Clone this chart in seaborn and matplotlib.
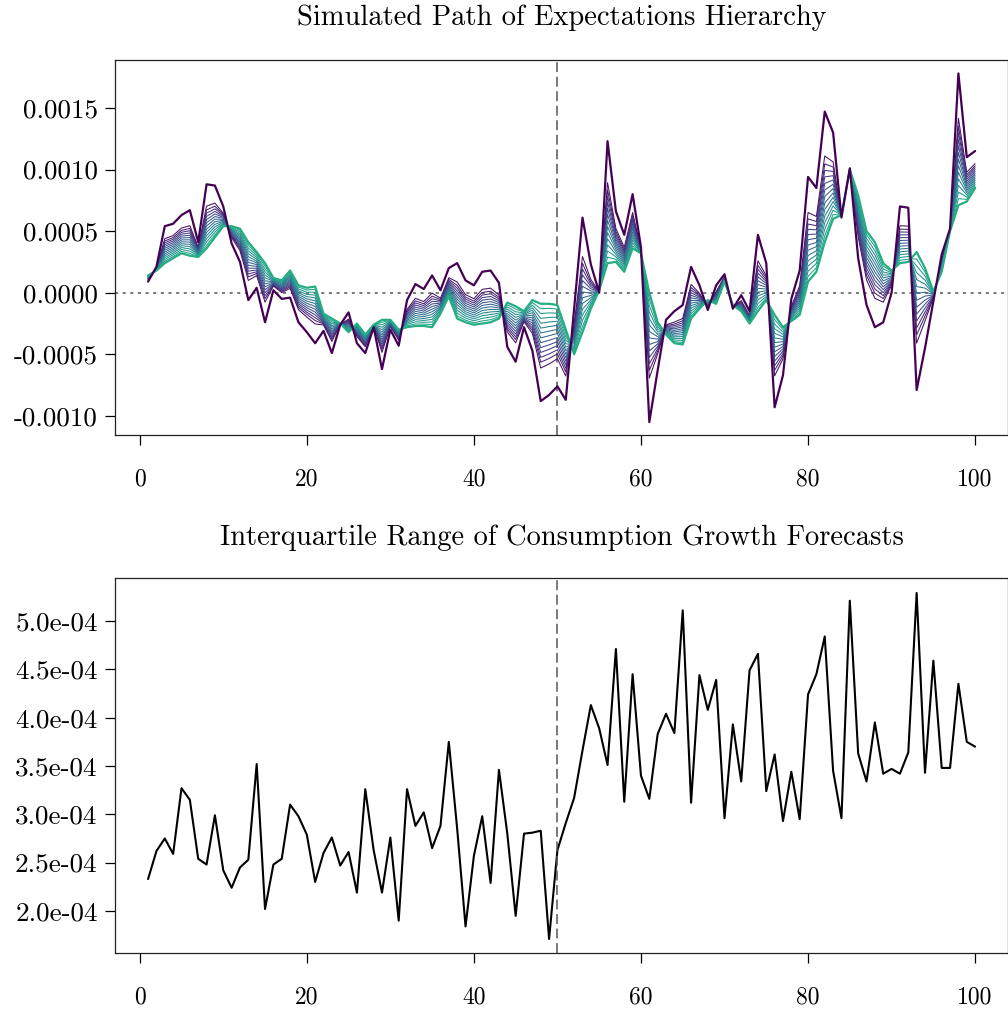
import numpy as np
import pandas as pd
import matplotlib
matplotlib.use("Agg")
import matplotlib.pyplot as plt
import seaborn as sns

# ---------------- data ----------------
periods = list(range(1, 101))

# first-order (most volatile) path -- thick dark purple line
first_order = [
    0.00009, 0.00021, 0.00054, 0.00056, 0.00063, 0.00067, 0.00041, 0.00088, 0.00087, 0.00070,
    0.00040, 0.00025, -0.00006, 0.00004, -0.00024, 0.00002, -0.00005, -0.00004, -0.00024, -0.00032,
    -0.00041, -0.00031, -0.00049, -0.00026, -0.00016, -0.00041, -0.00049, -0.00028, -0.00062, -0.00030,
    -0.00043, -0.00006, 0.00007, 0.00003, 0.00014, 0.00002, 0.00020, 0.00024, 0.00010, 0.00006,
    0.00017, 0.00018, 0.00008, -0.00044, -0.00056, -0.00028, -0.00047, -0.00088, -0.00083, -0.00076,
    -0.00087, -0.00013, 0.00061, 0.00023, 0.00000, 0.00123, 0.00066, 0.00047, 0.00080, 0.00037,
    -0.00105, -0.00063, -0.00022, -0.00015, -0.00010, 0.00021, 0.00006, -0.00014, 0.00006, 0.00015,
    -0.00013, -0.00002, -0.00015, 0.00047, 0.00024, -0.00093, -0.00067, -0.00005, 0.00018, 0.00094,
    0.00085, 0.00147, 0.00130, 0.00061, 0.00101, 0.00028, -0.00010, -0.00028, -0.00024, 0.00000,
    0.00070, 0.00069, -0.00079, -0.00045, -0.00007, 0.00031, 0.00052, 0.00178, 0.00110, 0.00115,
]

# highest-order (smoothest) path -- thick teal line
highest_order = [
    0.00014, 0.00018, 0.00024, 0.00028, 0.00032, 0.00030, 0.00029, 0.00036, 0.00045, 0.00054,
    0.00054, 0.00052, 0.00041, 0.00033, 0.00024, 0.00012, 0.00010, 0.00018, 0.00006, 0.00004,
    0.00005, -0.00017, -0.00021, -0.00025, -0.00032, -0.00025, -0.00034, -0.00026, -0.00022, -0.00022,
    -0.00030, -0.00028, -0.00027, -0.00027, -0.00028, -0.00017, -0.00003, -0.00021, -0.00024, -0.00026,
    -0.00025, -0.00024, -0.00021, -0.00008, -0.00011, -0.00015, -0.00006, -0.00009, -0.00009, -0.00010,
    -0.00030, -0.00050, -0.00032, -0.00013, 0.00002, 0.00024, 0.00025, 0.00017, 0.00036, 0.00032,
    0.00000, -0.00024, -0.00034, -0.00041, -0.00042, -0.00021, -0.00013, -0.00006, -0.00009, 0.00009,
    -0.00010, -0.00015, -0.00025, -0.00015, -0.00006, -0.00018, -0.00028, -0.00023, -0.00018, 0.00009,
    0.00017, 0.00041, 0.00060, 0.00063, 0.00100, 0.00079, 0.00050, 0.00041, 0.00024, 0.00018,
    0.00024, 0.00025, 0.00033, 0.00020, 0.00001, 0.00017, 0.00050, 0.00071, 0.00074, 0.00085,
]

# relative position of each order inside the fan (1 = first order, 0 = highest order)
order_weights = [1.0, 0.66, 0.60, 0.55, 0.50, 0.45, 0.40, 0.35, 0.30, 0.25, 0.20, 0.15, 0.10, 0.05, 0.0]

# interquartile range of consumption growth forecasts
iqr_values = [
    2.33e-4, 2.62e-4, 2.75e-4, 2.59e-4, 3.27e-4, 3.15e-4, 2.54e-4, 2.48e-4, 2.99e-4, 2.42e-4,
    2.24e-4, 2.45e-4, 2.53e-4, 3.52e-4, 2.02e-4, 2.48e-4, 2.54e-4, 3.10e-4, 2.98e-4, 2.79e-4,
    2.30e-4, 2.60e-4, 2.76e-4, 2.47e-4, 2.61e-4, 2.19e-4, 3.26e-4, 2.63e-4, 2.19e-4, 2.76e-4,
    1.90e-4, 3.26e-4, 2.88e-4, 3.02e-4, 2.65e-4, 2.88e-4, 3.75e-4, 2.85e-4, 1.84e-4, 2.57e-4,
    2.98e-4, 2.29e-4, 3.46e-4, 2.80e-4, 1.95e-4, 2.80e-4, 2.81e-4, 2.83e-4, 1.71e-4, 2.63e-4,
    2.91e-4, 3.17e-4, 3.66e-4, 4.13e-4, 3.89e-4, 3.51e-4, 4.71e-4, 3.13e-4, 4.45e-4, 3.40e-4,
    3.16e-4, 3.83e-4, 4.04e-4, 3.84e-4, 5.11e-4, 3.12e-4, 4.44e-4, 4.08e-4, 4.39e-4, 2.96e-4,
    3.93e-4, 3.34e-4, 4.49e-4, 4.66e-4, 3.24e-4, 3.62e-4, 2.93e-4, 3.44e-4, 2.95e-4, 4.24e-4,
    4.45e-4, 4.84e-4, 3.45e-4, 2.96e-4, 5.21e-4, 3.63e-4, 3.34e-4, 3.95e-4, 3.42e-4, 3.47e-4,
    3.42e-4, 3.64e-4, 5.29e-4, 3.43e-4, 4.59e-4, 3.48e-4, 3.48e-4, 4.35e-4, 3.75e-4, 3.70e-4,
]

break_period = 50

top_title = "Simulated Path of Expectations Hierarchy"
bottom_title = "Interquartile Range of Consumption Growth Forecasts"
x_ticks = [0, 20, 40, 60, 80, 100]
top_y_ticks = [-0.0010, -0.0005, 0.0000, 0.0005, 0.0010, 0.0015]
top_y_labels = ["-0.0010", "-0.0005", "0.0000", "0.0005", "0.0010", "0.0015"]
bottom_y_ticks = [2.0e-4, 2.5e-4, 3.0e-4, 3.5e-4, 4.0e-4, 4.5e-4, 5.0e-4]
bottom_y_labels = ["2.0e-04", "2.5e-04", "3.0e-04", "3.5e-04", "4.0e-04", "4.5e-04", "5.0e-04"]

# ---------------- build long table ----------------
fo = np.array(first_order)
ho = np.array(highest_order)
rows = []
for k, w in enumerate(order_weights):
    vals = ho + w * (fo - ho)
    for t, v in zip(periods, vals):
        rows.append({"period": t, "value": v, "order": k + 1})
hier = pd.DataFrame(rows)
iqr = pd.DataFrame({"period": periods, "iqr": iqr_values})

# ---------------- style ----------------
sns.set_style("white")
plt.rcParams["font.family"] = ["cmr10", "DejaVu Serif"]
plt.rcParams["axes.unicode_minus"] = False
plt.rcParams["text.color"] = "black"
plt.rcParams["axes.linewidth"] = 0.9
plt.rcParams["axes.edgecolor"] = "#222222"

FS_X = 17
FS_Y = 19.5
FS_T = 20.5
W, H = 1008, 1013
fig = plt.figure(figsize=(W / 100, H / 100), dpi=100)

def px_axes(left, top, right, bottom):
    return fig.add_axes([left / W, 1 - bottom / H, (right - left) / W, (bottom - top) / H])

ax1 = px_axes(115, 60, 1008.2, 435)
ax2 = px_axes(115, 578, 1008.2, 953)

n = len(order_weights)
cmap = plt.get_cmap("viridis")
colors = [cmap(x) for x in np.linspace(0, 0.62, n)]

# thin intermediate orders first, then thick teal, then thick dark on top
draw_order = list(range(1, n - 1)) + [n - 1, 0]
for k in draw_order:
    sub = hier[hier["order"] == k + 1]
    lw = 1.6 if k in (0, n - 1) else 0.75
    sns.lineplot(data=sub, x="period", y="value", ax=ax1, color=colors[k],
                 linewidth=lw, legend=False, zorder=3 + (k == 0))

ax1.axhline(0, color="#555555", linestyle=(0, (2, 3)), linewidth=1.1, zorder=2)
ax1.axvline(break_period, color="#555555", linestyle=(0, (6.5, 3)), linewidth=1.1, zorder=2)

sns.lineplot(data=iqr, x="period", y="iqr", ax=ax2, color="black", linewidth=1.5, legend=False)
ax2.axvline(break_period, color="#555555", linestyle=(0, (6.5, 3)), linewidth=1.1, zorder=2)

for ax in (ax1, ax2):
    ax.set_xlim(-2.96, 103.96)
    ax.set_xticks(x_ticks)
    ax.set_xticklabels([str(v) for v in x_ticks])
    ax.set_xlabel("")
    ax.set_ylabel("")
    ax.tick_params(axis="x", which="major", bottom=True, direction="out", length=7.5, width=0.9,
                   pad=16.5, labelsize=FS_X, colors="black", labelcolor="black")
    ax.tick_params(axis="y", which="major", left=True, direction="out", length=7.5, width=0.9,
                   pad=5, labelsize=FS_Y, colors="black", labelcolor="black")
    for s in ax.spines.values():
        s.set_visible(True)
        s.set_color("#222222")
    ax.grid(False)

ax1.set_ylim(-0.001155, 0.001889)
ax1.set_yticks(top_y_ticks)
ax1.set_yticklabels(top_y_labels)
ax2.set_ylim(1.565e-4, 5.445e-4)
ax2.set_yticks(bottom_y_ticks)
ax2.set_yticklabels(bottom_y_labels)

ax1.text(0.5, 1 + 42 / 375, top_title, transform=ax1.transAxes, ha="center", va="center",
         fontsize=FS_T, color="black")
ax2.text(0.5, 1 + 40 / 375, bottom_title, transform=ax2.transAxes, ha="center", va="center",
         fontsize=FS_T, color="black")

fig.savefig("out.png", dpi=100)
